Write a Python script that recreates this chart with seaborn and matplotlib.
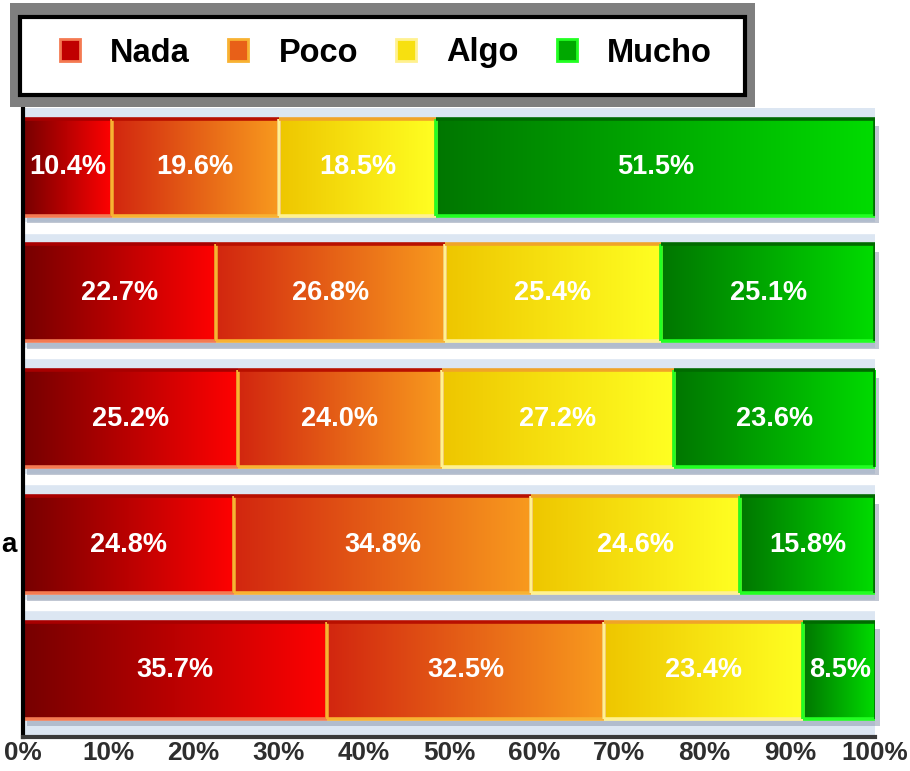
import numpy as np
import pandas as pd
import matplotlib
matplotlib.use("Agg")
import matplotlib.pyplot as plt
from matplotlib.colors import LinearSegmentedColormap
from matplotlib.patches import Rectangle, Patch
import seaborn as sns

# data (top row first)
rows = ["1", "2", "3", "4", "5"]
categories = ["Nada", "Poco", "Algo", "Mucho"]
nada = [10.4, 22.7, 25.2, 24.8, 35.7]
poco = [19.6, 26.8, 24.0, 34.8, 32.5]
algo = [18.5, 25.4, 27.2, 24.6, 23.4]
mucho = [51.5, 25.1, 23.6, 15.8, 8.5]
xticks = [0, 10, 20, 30, 40, 50, 60, 70, 80, 90, 100]

# gradient (left, right) and bevel (light, dark) colours per category
grad_left = ["#760000", "#d2260f", "#eec600", "#007600"]
grad_right = ["#ff0202", "#f89a1e", "#ffff22", "#00dc00"]
mid_col = ["#c00000", "#e86018", "#f7e010", "#00a800"]
edge_light = ["#f47a52", "#f8b232", "#fff190", "#22ff22"]
edge_dark = ["#a80000", "#b81000", "#f0a428", "#006a00"]

sns.set_theme(style="white")
plt.rcParams["font.family"] = ["Liberation Sans", "DejaVu Sans"]

fig = plt.figure(figsize=(9.1, 7.71), dpi=100)
ax = fig.add_axes([23 / 910, 1 - 737 / 771, (875 - 23) / 910, (737 - 108) / 771])
ax.set_facecolor("#dce6f2")

df = pd.DataFrame({"row": rows, "Nada": nada, "Poco": poco, "Algo": algo, "Mucho": mucho})
cum = df[categories].cumsum(axis=1)

bar_h = 0.77
# stacked bars: longest cumulative first so shorter ones sit on top
seg_patches = {}
for k in reversed(range(len(categories))):
    cat = categories[k]
    n0 = len(ax.patches)
    sns.barplot(data=cum.assign(row=rows), x=cat, y="row", order=rows, orient="h",
                color=mid_col[k], width=bar_h, saturation=1, ax=ax, zorder=2)
    seg_patches[cat] = ax.patches[n0:]

for i in range(len(rows) - 1):
    ax.axhspan(i + 0.44, i + 0.52, color="white", zorder=1)

for i, row in enumerate(rows):
    p = seg_patches["Mucho"][i]
    y0, h = p.get_y(), p.get_height()
    ax.add_patch(Rectangle((0.5, y0 + 0.06), p.get_width(), h, color="#8e9ab0",
                           alpha=0.55, lw=0, zorder=1.5, clip_on=False))
    for k, cat in enumerate(categories):
        p = seg_patches[cat][i]
        x1 = p.get_width()
        x0 = seg_patches[categories[k - 1]][i].get_width() if k > 0 else 0
        yt, yb = p.get_y(), p.get_y() + p.get_height()
        cm = LinearSegmentedColormap.from_list(cat, [grad_left[k], grad_right[k]])
        ax.imshow(np.linspace(0, 1, 256).reshape(1, -1), cmap=cm, aspect="auto",
                  extent=(x0, x1, yb, yt), zorder=3, interpolation="bilinear")
        ax.plot([x0, x0], [yt, yb], color=edge_light[k], lw=2.6, zorder=4,
                solid_capstyle="butt")
        ax.plot([x0, x1], [yb, yb], color=edge_light[k], lw=2.6, zorder=4,
                solid_capstyle="butt")
        ax.plot([x0, x1], [yt, yt], color=edge_dark[k], lw=2.6, zorder=4,
                solid_capstyle="butt")
        ax.plot([x1, x1], [yt, yb], color=edge_dark[k], lw=2.6, zorder=4,
                solid_capstyle="butt")
        val = df.loc[i, cat]
        ax.text((x0 + x1) / 2, (yt + yb) / 2, f"{val:.1f}%", ha="center", va="center",
                color="white", fontsize=19.5, fontweight="bold", zorder=6)

ax.set_xlim(0, 100)
ax.set_ylim(4.53, -0.47)
ax.set_xticks(xticks)
ax.set_xticklabels([f"{t}%" for t in xticks], fontsize=18.8, fontweight="bold", color="#2e2e2e")
ax.tick_params(axis="x", length=0, pad=3)
ax.set_yticks([])
ax.set_xlabel("")
ax.set_ylabel("")
for s in ["top", "right"]:
    ax.spines[s].set_visible(False)
ax.spines["left"].set_color("black")
ax.spines["left"].set_linewidth(3)
ax.spines["bottom"].set_color("#3a3a3a")
ax.spines["bottom"].set_linewidth(3)
ax.spines["left"].set_zorder(7)
ax.spines["bottom"].set_zorder(7)

# row label fragment at the left edge
fig.text(1 / 910, 1 - 545 / 771, "a", ha="left", va="center", fontsize=20,
         fontweight="bold", color="black")

# legend box: grey outer frame with black inner frame
fig.add_artist(Rectangle((10 / 910, 1 - 107 / 771), 745 / 910, 104 / 771,
                         transform=fig.transFigure, color="#7f7f7f", lw=0))
fig.add_artist(Rectangle((20 / 910, 1 - 95 / 771), 725 / 910, 78 / 771,
                         transform=fig.transFigure, facecolor="white",
                         edgecolor="black", lw=3))
handles = [Patch(facecolor=mid_col[k], edgecolor=edge_light[k], lw=2)
           for k in range(len(categories))]
fig.legend(handles, categories, loc="center left", bbox_to_anchor=(60 / 910, 1 - 53 / 771),
           ncol=4, frameon=False, prop={"weight": "bold", "size": 23.5},
           handlelength=0.62, handleheight=0.62, handletextpad=0.92,
           columnspacing=1.17, borderpad=0, borderaxespad=0, labelcolor="black")

fig.savefig("out.png", dpi=100)
